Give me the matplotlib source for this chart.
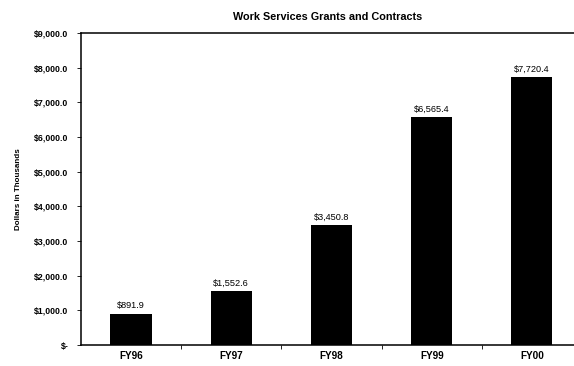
import matplotlib
matplotlib.use("Agg")
import matplotlib.pyplot as plt
from matplotlib.ticker import FuncFormatter, FixedLocator

years = ["FY96", "FY97", "FY98", "FY99", "FY00"]
amounts = [891.9, 1552.6, 3450.8, 6565.4, 7720.4]
y_ticks = [0, 1000, 2000, 3000, 4000, 5000, 6000, 7000, 8000, 9000]

plt.rcParams["font.family"] = ["Liberation Sans", "DejaVu Sans"]

fig = plt.figure(figsize=(5.74, 3.66), dpi=100)
ax = fig.add_axes([0.141, 0.057, 0.859, 0.853])

x = range(len(years))
ax.bar(x, amounts, width=0.41, color="black", zorder=2)

for xi, v in zip(x, amounts):
    ax.text(xi, v + 110, f"${v:,.1f}", ha="center", va="bottom",
            fontsize=6.6, color="black")

ax.set_ylim(0, 9000)
ax.set_xlim(-0.5, 4.42)
ax.set_yticks(y_ticks)
ax.yaxis.set_major_formatter(FuncFormatter(
    lambda v, p: "$-" if v == 0 else f"${v:,.1f}"))
ax.tick_params(axis="y", labelsize=6.3, length=3, width=0.6, pad=6)
for lbl in ax.get_yticklabels():
    lbl.set_fontweight("bold")

ax.set_xticks(list(x))
ax.set_xticklabels(years, fontsize=7.2, fontweight="bold")
ax.tick_params(axis="x", length=0, pad=4)
ax.xaxis.set_minor_locator(FixedLocator([0.5, 1.5, 2.5, 3.5]))
ax.tick_params(axis="x", which="minor", length=3, width=0.6)

ax.set_ylabel("Dollars in Thousands", fontsize=5.8, fontweight="bold", labelpad=9)
ax.set_title("Work Services Grants and Contracts", fontsize=7.8,
             fontweight="bold", pad=9)

for side in ["left", "bottom", "top"]:
    ax.spines[side].set_linewidth(1.1)
ax.spines["right"].set_visible(False)

fig.savefig("out.png", dpi=100)
